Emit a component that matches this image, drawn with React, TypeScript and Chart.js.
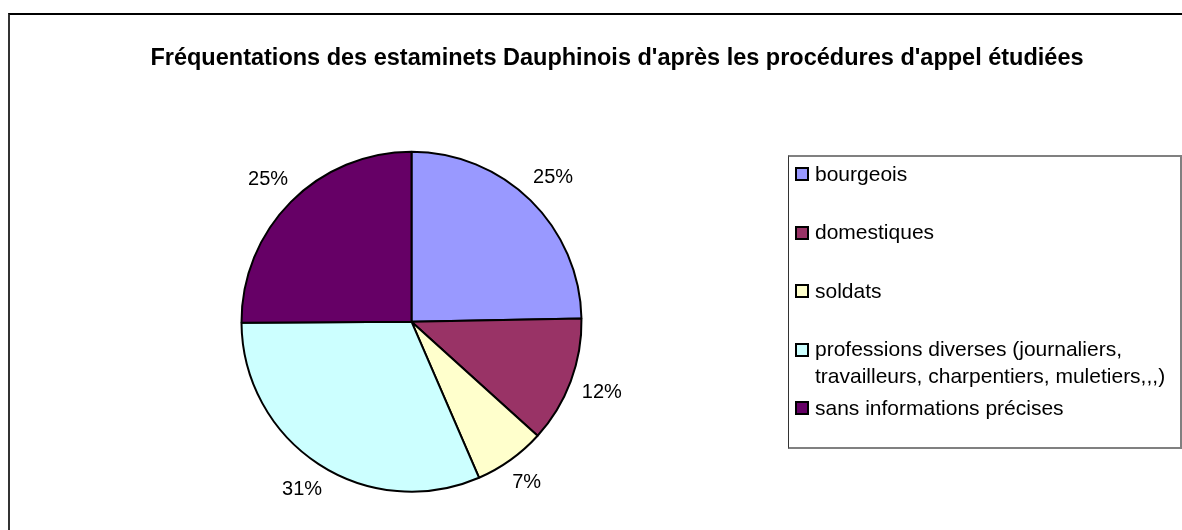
import React, { useEffect, useRef } from "react";
import { Chart, registerables } from "chart.js";

Chart.register(...registerables);

const chartTitle =
  "Fréquentations des estaminets Dauphinois d'après les procédures d'appel étudiées";
const categories = [
  "bourgeois",
  "domestiques",
  "soldats",
  "professions diverses (journaliers, travailleurs, charpentiers, muletiers,,,)",
  "sans informations précises",
];
const values = [24.7, 12.0, 6.8, 31.4, 25.1];
const colors = ["#9999FF", "#993366", "#FFFFCC", "#CCFFFF", "#660066"];

const FONT = "'Liberation Sans', Arial, sans-serif";

const pctLabels = {
  id: "pctLabels",
  afterDatasetsDraw(chart: any) {
    const ctx = chart.ctx;
    const meta = chart.getDatasetMeta(0);
    const data = chart.data.datasets[0].data as number[];
    const total = data.reduce((a, b) => a + b, 0);
    ctx.save();
    ctx.font = `20px ${FONT}`;
    ctx.fillStyle = "#000";
    ctx.textAlign = "center";
    ctx.textBaseline = "middle";
    meta.data.forEach((arc: any, i: number) => {
      const p = arc.getProps(["x", "y", "startAngle", "endAngle", "outerRadius"], true);
      const mid = (p.startAngle + p.endAngle) / 2;
      const txt = Math.round((data[i] / total) * 100) + "%";
      const w = ctx.measureText(txt).width;
      const c = Math.cos(mid);
      const s = Math.sin(mid);
      const r = p.outerRadius + 11 + Math.abs(c) * (w / 2) + Math.abs(s) * 10;
      ctx.fillText(txt, p.x + c * r, p.y + s * r);
    });
    ctx.restore();
  },
};

export default function App() {
  const canvasRef = useRef<HTMLCanvasElement | null>(null);

  useEffect(() => {
    document.body.style.overflow = "hidden";
    const canvas = canvasRef.current;
    if (!canvas) return;
    const chart = new Chart(canvas, {
      type: "pie",
      data: {
        labels: categories,
        datasets: [
          {
            data: values,
            backgroundColor: colors,
            borderColor: "#000000",
            borderWidth: 2,
          },
        ],
      },
      options: {
        responsive: false,
        animation: false,
        layout: {
          padding: { left: 240.5, top: 150.7, right: 599.5, bottom: 37.3 },
        },
        plugins: {
          legend: { display: false },
          title: { display: false },
          tooltip: { enabled: false },
        },
      },
      plugins: [pctLabels],
    });
    return () => chart.destroy();
  }, []);

  return (
    <div
      style={{
        position: "fixed",
        left: 0,
        top: 0,
        width: 1182,
        height: 530,
        overflow: "hidden",
        background: "#fff",
        fontFamily: FONT,
      }}
    >
      <div
        style={{
          position: "absolute",
          left: 8,
          top: 13,
          width: 1400,
          height: 700,
          borderLeft: "2px solid #333",
          borderTop: "2px solid #000",
        }}
      />
      <canvas
        ref={canvasRef}
        width={1182}
        height={530}
        style={{ position: "absolute", left: 0, top: 0, width: 1182, height: 530 }}
      />
      <div
        style={{
          position: "absolute",
          left: 8,
          width: 1218,
          top: 43,
          lineHeight: "28px",
          fontSize: 23.5,
          fontWeight: "bold",
          textAlign: "center",
          color: "#000",
          whiteSpace: "nowrap",
        }}
      >
        {chartTitle}
      </div>
      <div
        style={{
          position: "absolute",
          left: 788,
          top: 155,
          width: 394,
          height: 294,
          boxSizing: "border-box",
          borderTop: "2px solid #808080",
          borderBottom: "2px solid #808080",
          borderRight: "2px solid #808080",
          borderLeft: "1px solid #333",
        }}
      />
      {categories.map((cat, i) => (
        <div
          key={cat}
          style={{
            position: "absolute",
            left: 795,
            top: 174 + i * 58.6 - 13.35,
            display: "flex",
            alignItems: "flex-start",
          }}
        >
          <div
            style={{
              width: 14,
              height: 14,
              boxSizing: "border-box",
              border: "2px solid #000",
              background: colors[i],
              marginTop: 6.35,
              flex: "0 0 auto",
            }}
          />
          <div
            style={{
              marginLeft: 6,
              width: 362,
              fontSize: 21,
              lineHeight: "26.7px",
              color: "#000",
            }}
          >
            {cat}
          </div>
        </div>
      ))}
    </div>
  );
}
